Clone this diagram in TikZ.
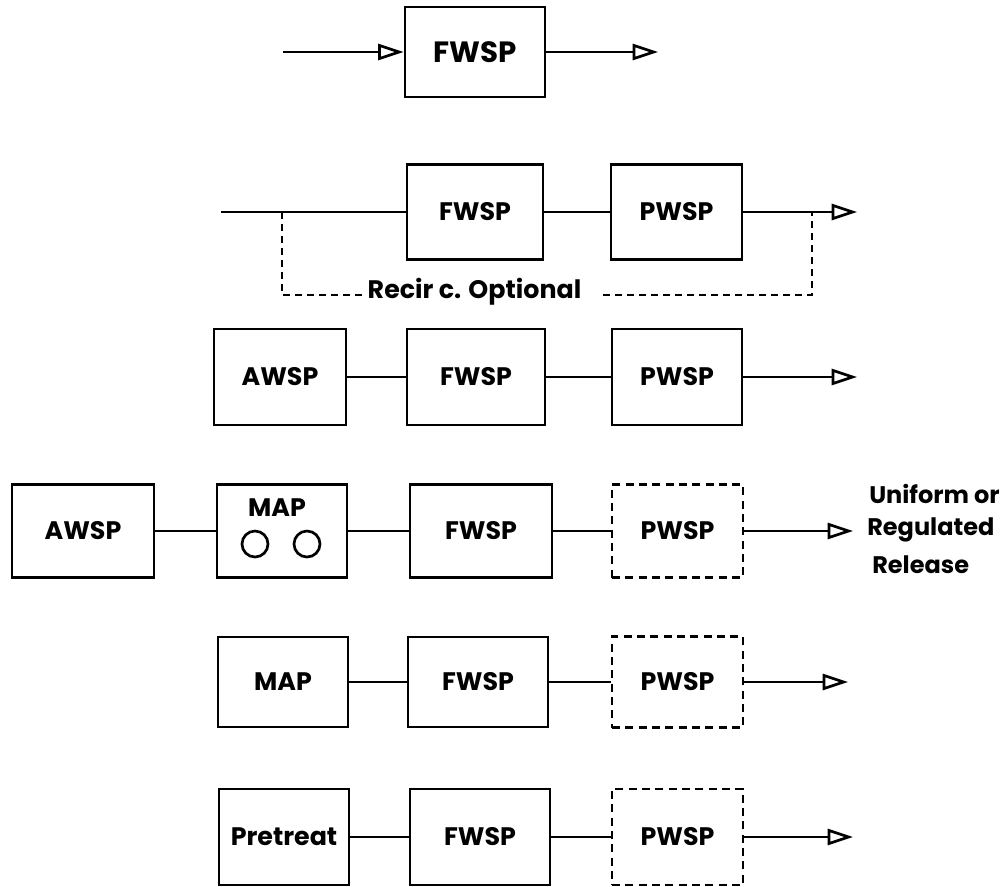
\documentclass[tikz,border=0pt]{standalone}
\usepackage{fontspec}
\setmainfont{Poppins}
\usetikzlibrary{arrows.meta}
\begin{document}
\begin{tikzpicture}[x=0.75pt,y=-0.75pt,
  sz/.style 2 args={minimum width=#1*0.75pt, minimum height=#2*0.75pt},
  blk/.style={draw, line width=2.2pt, rectangle, inner sep=0pt,
    font=\bfseries\fontsize{19}{22}\selectfont},
  dblk/.style={blk, dash pattern=on 6pt off 4pt},
  conn/.style={line width=2pt},
  flow/.style={conn, -{Triangle[open, length=19pt, width=12pt, line width=2pt]}},
  dsh/.style={line width=2pt, dash pattern=on 5pt off 4pt},
  lbl/.style={inner sep=0pt, font=\bfseries\fontsize{19}{22}\selectfont},
  note/.style={inner sep=0pt, anchor=west, font=\bfseries\fontsize{18}{22}\selectfont},
  tank/.style={draw, circle, line width=2pt, inner sep=0pt, minimum size=26*0.75pt}]
\useasboundingbox (0,0) rectangle (1006,886);

% single pond
\node[blk, sz={140}{90}, font=\bfseries\fontsize{22}{26}\selectfont] (f1) at (475,52) {FWSP};
\coordinate (i1) at (283,52);
\coordinate (o1) at (658,52);
\draw[flow] (i1) -- (f1.west);
\draw[flow] (f1.east) -- (o1);

% facultative + polishing with optional recirculation
\node[blk, sz={136}{95}] (f2) at (475,212) {FWSP};
\node[blk, sz={131}{95}] (p2) at (676.5,212) {PWSP};
\coordinate (i2) at (221,212);
\coordinate (o2) at (857,212);
\draw[conn] (i2) -- (f2.west);
\draw[conn] (f2.east) -- (p2.west);
\draw[flow] (p2.east) -- (o2);
\coordinate (ra) at (282,212);
\coordinate (rb) at (812,212);
\coordinate (rl) at (363,295);
\coordinate (rr) at (603,295);
\node[lbl] (rt) at (474.5,292) {Recir c. Optional};
\draw[dsh] (ra) |- (rl);
\draw[dsh] (rr) -| (rb);

% anaerobic + facultative + polishing
\node[blk, sz={132}{96}] (a3) at (280,377) {AWSP};
\node[blk, sz={138}{96}] (f3) at (476,377) {FWSP};
\node[blk, sz={130}{96}] (p3) at (677,377) {PWSP};
\coordinate (o3) at (857,377);
\draw[conn] (a3.east) -- (f3.west);
\draw[conn] (f3.east) -- (p3.west);
\draw[flow] (p3.east) -- (o3);

% anaerobic + aerated + facultative + optional polishing
\node[blk, sz={142}{93}] (a4) at (83,531) {AWSP};
\node[blk, sz={130}{93}] (m4) at (282,531) {};
\node[lbl] (m4t) at (277,508) {MAP};
\node[tank] (c1) at (255,544) {};
\node[tank] (c2) at (307,544) {};
\node[blk, sz={142}{93}] (f4) at (481,531) {FWSP};
\node[dblk, sz={131}{93}] (p4) at (677.5,531) {PWSP};
\coordinate (o4) at (853,531);
\draw[conn] (a4.east) -- (m4.west);
\draw[conn] (m4.east) -- (f4.west);
\draw[conn] (f4.east) -- (p4.west);
\draw[flow] (p4.east) -- (o4);
\node[note] (u1) at (869,494) {Uniform or};
\node[note] (u2) at (867,530) {Regulated};
\node[note] (u3) at (872,565) {Release};

% aerated + facultative + optional polishing
\node[blk, sz={130}{90}] (m5) at (283,682) {MAP};
\node[blk, sz={140}{90}] (f5) at (478,682) {FWSP};
\node[dblk, sz={131}{91}] (p5) at (677.5,682) {PWSP};
\coordinate (o5) at (848,682);
\draw[conn] (m5.east) -- (f5.west);
\draw[conn] (f5.east) -- (p5.west);
\draw[flow] (p5.east) -- (o5);

% pretreatment + facultative + optional polishing
\node[blk, sz={130}{96}] (pr) at (284,837) {Pretreat};
\node[blk, sz={140}{96}] (f6) at (480,837) {FWSP};
\node[dblk, sz={131}{96}] (p6) at (677.5,837) {PWSP};
\coordinate (o6) at (853,837);
\draw[conn] (pr.east) -- (f6.west);
\draw[conn] (f6.east) -- (p6.west);
\draw[flow] (p6.east) -- (o6);
\end{tikzpicture}
\end{document}
